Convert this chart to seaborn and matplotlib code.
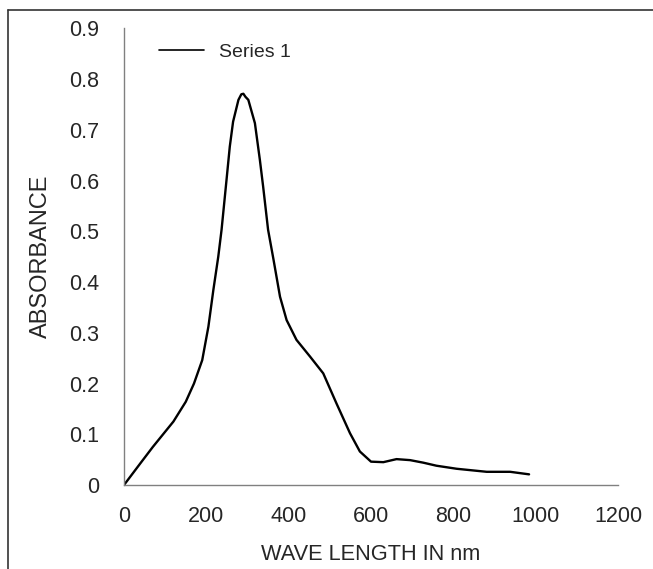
import matplotlib
matplotlib.use("Agg")
import matplotlib.pyplot as plt
import seaborn as sns
import pandas as pd
from matplotlib.lines import Line2D

wavelength = [0, 40, 70, 100, 120, 150, 170, 190, 205, 217, 229, 237, 249, 257,
              265, 278, 285, 290, 295, 302, 318, 330, 338, 350, 363, 379, 395,
              419, 452, 484, 516, 549, 573, 600, 630, 662, 695, 727, 759, 808,
              881, 938, 984]
absorbance = [0, 0.043, 0.075, 0.105, 0.125, 0.164, 0.200, 0.246, 0.312, 0.384,
              0.450, 0.503, 0.601, 0.667, 0.716, 0.759, 0.770, 0.771, 0.765,
              0.759, 0.713, 0.641, 0.588, 0.503, 0.445, 0.371, 0.325, 0.286,
              0.253, 0.220, 0.161, 0.102, 0.066, 0.046, 0.045, 0.051, 0.049,
              0.044, 0.038, 0.032, 0.026, 0.026, 0.021]
series_name = "Series 1"
x_ticks = [0, 200, 400, 600, 800, 1000, 1200]
y_ticks = [0, 0.1, 0.2, 0.3, 0.4, 0.5, 0.6, 0.7, 0.8, 0.9]
y_tick_labels = ["0", "0.1", "0.2", "0.3", "0.4", "0.5", "0.6", "0.7", "0.8", "0.9"]

sns.set_theme(style="white")
plt.rcParams['font.family'] = ['Liberation Sans', 'DejaVu Sans']
text_color = '#262626'

df = pd.DataFrame({"wavelength": wavelength, "absorbance": absorbance,
                   "series": series_name})

fig = plt.figure(figsize=(6.53, 5.69), dpi=100)
ax = fig.add_axes([124/653, 1 - 485/569, 494/653, (485 - 28.3)/569])

sns.lineplot(data=df, x="wavelength", y="absorbance", hue="series",
             palette=["black"], sort=False, estimator=None, linewidth=1.7, ax=ax)

ax.set_xlim(0, 1200)
ax.set_ylim(0, 0.9)
ax.set_xticks(x_ticks)
ax.set_xticklabels([str(t) for t in x_ticks])
ax.set_yticks(y_ticks)
ax.set_yticklabels(y_tick_labels)

for s in ["top", "right"]:
    ax.spines[s].set_visible(False)
for s in ["left", "bottom"]:
    ax.spines[s].set_color('#808080')
    ax.spines[s].set_linewidth(1.0)

ax.tick_params(axis='both', which='major', direction='out', length=4, width=1,
               color='#808080', labelsize=15.5, labelcolor=text_color)
ax.tick_params(axis='y', pad=14)
ax.tick_params(axis='x', pad=11)

ax.set_xlabel("WAVE LENGTH IN nm", fontsize=15.7, color=text_color, labelpad=12)
ax.set_ylabel("ABSORBANCE", fontsize=17, color=text_color, labelpad=12.5)

leg = ax.legend(loc='center left', bbox_to_anchor=(0.071, 0.948), frameon=False,
                fontsize=14, handlelength=2.3, handletextpad=0.8,
                borderpad=0, borderaxespad=0)
for t in leg.get_texts():
    t.set_color(text_color)
for h in leg.get_lines():
    h.set_linewidth(1.2)

# figure border (left and top edges visible)
fig.add_artist(Line2D([8/653, 8/653], [0, 1 - 9.5/569], transform=fig.transFigure,
                      color='#333333', linewidth=1.2))
fig.add_artist(Line2D([8/653, 1], [1 - 9.5/569, 1 - 9.5/569], transform=fig.transFigure,
                      color='#333333', linewidth=1.2))

fig.savefig("out.png", dpi=100)
